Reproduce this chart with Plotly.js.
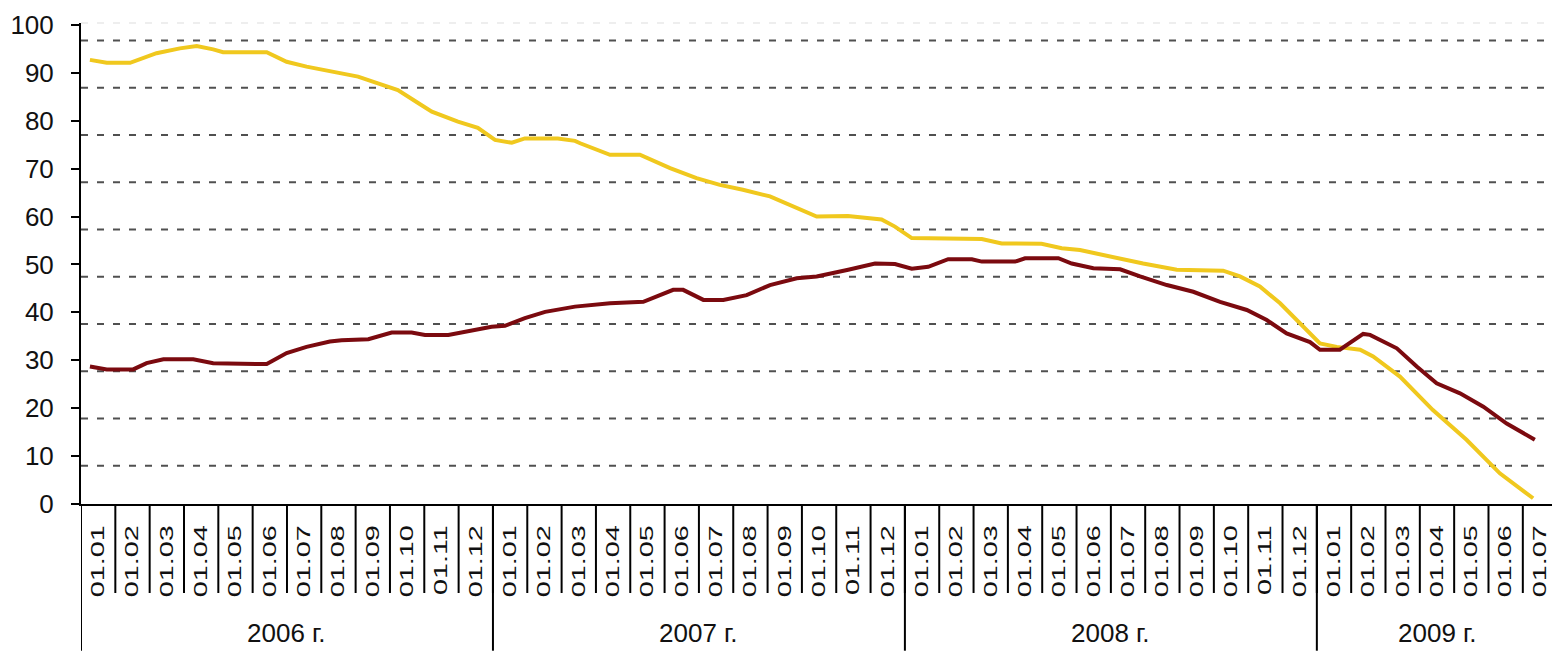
<!DOCTYPE html>
<html>
<head>
<meta charset="utf-8">
<script src="https://cdn.plot.ly/plotly-3.0.1.min.js"></script>
<style>
  html, body { margin: 0; padding: 0; background: #fff; }
  #chart { width: 1552px; height: 654px; }
</style>
</head>
<body>
<div id="chart"></div>
<script>
// Month tick labels (01.MM), 2006-01 .. 2009-07
const tickLabels = [
  '01.01','01.02','01.03','01.04','01.05','01.06','01.07','01.08','01.09','01.10','01.11','01.12',
  '01.01','01.02','01.03','01.04','01.05','01.06','01.07','01.08','01.09','01.10','01.11','01.12',
  '01.01','01.02','01.03','01.04','01.05','01.06','01.07','01.08','01.09','01.10','01.11','01.12',
  '01.01','01.02','01.03','01.04','01.05','01.06','01.07'
];
const years = ['2006 г.', '2007 г.', '2008 г.', '2009 г.'];
const yearMonths = [12, 12, 12, 7];

// Series 1 (yellow): time in months since 01.01.2006, value
const yellowT = [0.26,0.75,1.43,2.2,2.88,3.37,3.85,4.14,5.41,5.99,6.57,7.25,8.07,8.65,9.23,9.82,10.22,10.98,11.56,12.06,12.55,12.93,13.89,14.39,14.54,15.41,16.28,17.16,17.93,18.61,19.28,20.07,20.65,21.43,22.34,23.32,23.71,24.2,26.24,26.82,27.98,28.57,29.1,29.97,30.94,31.92,33.27,33.76,34.34,34.93,35.51,36.09,36.58,37.26,37.64,38.42,39.38,40.36,41.33,42.3];
const yellowV = [92.7,92.1,92.1,94.1,95.1,95.6,94.9,94.3,94.3,92.3,91.3,90.3,89.2,87.8,86.4,83.7,81.9,79.8,78.5,76.0,75.4,76.3,76.3,75.8,75.3,72.9,72.9,70.1,68.0,66.6,65.6,64.2,62.4,60.0,60.1,59.4,57.9,55.5,55.3,54.4,54.3,53.4,53.0,51.6,50.2,48.9,48.7,47.5,45.4,41.9,37.7,33.5,32.8,32.2,30.8,26.6,19.6,13.4,6.4,1.2];

// Series 2 (maroon)
const maroonT = [0.26,0.75,1.52,1.91,2.4,3.27,3.85,5.41,5.99,6.57,7.25,7.59,8.37,9.05,9.63,10.02,10.7,11.28,11.96,12.35,12.93,13.52,14.39,15.41,16.38,17.25,17.54,18.13,18.71,19.39,20.07,20.85,21.43,22.35,23.13,23.71,24.2,24.68,25.26,25.95,26.24,27.21,27.5,28.47,28.86,29.49,30.27,30.85,31.63,32.4,33.18,33.96,34.54,35.12,35.8,36.09,36.67,37.35,37.55,38.33,38.91,39.49,40.17,40.85,41.53,42.35];
const maroonV = [28.7,28.1,28.1,29.4,30.2,30.2,29.4,29.2,31.5,32.8,33.9,34.2,34.4,35.8,35.8,35.3,35.3,36.0,37.0,37.2,38.8,40.1,41.2,41.9,42.2,44.7,44.7,42.6,42.6,43.6,45.7,47.1,47.5,48.9,50.2,50.1,49.1,49.5,51.1,51.1,50.6,50.6,51.3,51.3,50.2,49.2,49.0,47.5,45.7,44.3,42.2,40.5,38.4,35.6,33.8,32.2,32.2,35.5,35.3,32.5,28.7,25.2,23.1,20.3,16.8,13.4];

const tickVals = tickLabels.map((_, i) => i + 0.5);

const traces = [
  { x: yellowT, y: yellowV, type: 'scatter', mode: 'lines', line: { color: '#F0C81E', width: 4 }, hoverinfo: 'skip' },
  { x: maroonT, y: maroonV, type: 'scatter', mode: 'lines', line: { color: '#7B0A0F', width: 4 }, hoverinfo: 'skip' }
];

const shapes = [];
// dashed horizontal grid lines
const gridStart = 8.0, gridStep = 9.86;
for (let k = 0; k < 10; k++) {
  const g = gridStart + k * gridStep;
  shapes.push({ type: 'line', layer: 'below', xref: 'paper', x0: 0, x1: 1, yref: 'y', y0: g, y1: g,
    line: { color: '#505050', width: 2, dash: '7px,9px' } });
}
shapes.push({ type: 'line', layer: 'below', xref: 'paper', x0: 0, x1: 1, yref: 'paper', y0: 1, y1: 1,
  line: { color: '#dddddd', width: 1, dash: '7px,9px' } });

// month separators below the axis
for (let i = 1; i < tickLabels.length; i++) {
  shapes.push({ type: 'line', xref: 'x', x0: i, x1: i, yref: 'paper', y0: 0, y1: -0.185,
    line: { color: '#000', width: 2 } });
}

// year group separators and labels
const annotations = [];
let start = 0;
years.forEach((yr, i) => {
  shapes.push({ type: 'line', xref: 'x', x0: start, x1: start, yref: 'paper', y0: 0, y1: -0.305,
    line: { color: '#000', width: 2 } });
  annotations.push({ text: yr, xref: 'x', x: start + yearMonths[i] / 2, yref: 'paper', y: -0.268,
    yanchor: 'middle', xanchor: 'center', showarrow: false,
    font: { family: 'Liberation Sans, Arial, sans-serif', size: 26, color: '#111' } });
  start += yearMonths[i];
});

const layout = {
  width: 1552, height: 654,
  margin: { l: 81, r: 0, t: 23, b: 150 },
  paper_bgcolor: '#fff', plot_bgcolor: '#fff',
  showlegend: false,
  font: { family: 'Liberation Sans, Arial, sans-serif', color: '#111' },
  xaxis: {
    range: [0, 42.85], showgrid: false, zeroline: false,
    showline: true, linecolor: '#000', linewidth: 2,
    tickmode: 'array', tickvals: tickVals, ticktext: tickLabels,
    ticks: '', tickangle: -90, ticklabelstandoff: 12,
    tickfont: { family: 'Liberation Sans, Arial, sans-serif', size: 18, color: '#111' }
  },
  yaxis: {
    range: [0, 100.4], showgrid: false, zeroline: false,
    showline: true, linecolor: '#000', linewidth: 2,
    tickmode: 'linear', tick0: 0, dtick: 10,
    ticks: 'outside', ticklen: 8, tickwidth: 2, tickcolor: '#000',
    ticklabelstandoff: 12,
    tickfont: { size: 26, color: '#111' }
  },
  shapes: shapes,
  annotations: annotations
};

Plotly.newPlot('chart', traces, layout, { displayModeBar: false, staticPlot: true }).then(gd => {
  // stretch the rotated month labels along their reading direction
  gd.querySelectorAll('.xaxislayer-above g.xtick').forEach(g => {
    const bb = g.getBBox();
    const cx = bb.x + bb.width / 2, top = bb.y;
    const s = 1.6;
    g.setAttribute('transform', `translate(${cx},${top}) scale(1,${s}) translate(${-cx},${-top})`);
  });
});
</script>
</body>
</html>
